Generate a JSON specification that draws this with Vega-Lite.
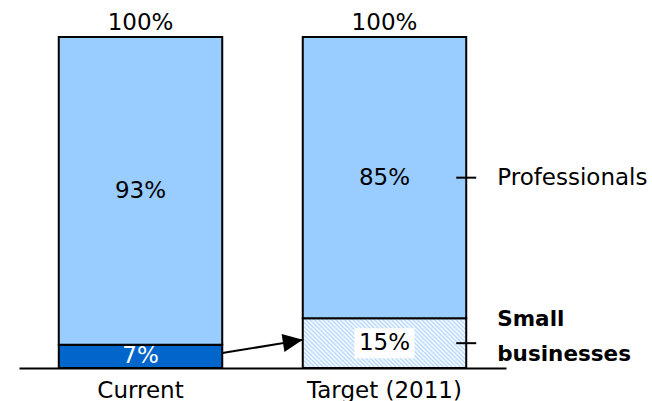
{
  "$schema": "https://vega.github.io/schema/vega-lite/v6.json",
  "width": 487,
  "height": 331,
  "autosize": {"type": "none"},
  "padding": {"left": 19, "top": 37, "right": 146, "bottom": 33},
  "background": "white",
  "config": {"view": {"stroke": null}, "font": "DejaVu Sans"},
  "data": {
    "values": [
      {"bar": "Current", "segment": "Small businesses", "share": 0.07},
      {"bar": "Current", "segment": "Professionals", "share": 0.93},
      {"bar": "Target (2011)", "segment": "Small businesses", "share": 0.15},
      {"bar": "Target (2011)", "segment": "Professionals", "share": 0.85}
    ]
  },
  "encoding": {
    "x": {
      "field": "bar",
      "type": "nominal",
      "scale": {"type": "band", "paddingInner": 0.33, "paddingOuter": 0.163},
      "axis": {
        "title": null,
        "domain": true,
        "domainColor": "#000000",
        "domainWidth": 2,
        "ticks": false,
        "tickSize": 0,
        "labelAngle": 0,
        "labelFont": "DejaVu Sans",
        "labelFontSize": 23,
        "labelColor": "#000000",
        "labelPadding": 11
      }
    }
  },
  "layer": [
    {
      "mark": {"type": "bar", "stroke": "#000000", "strokeWidth": 2},
      "encoding": {
        "y": {"field": "share", "type": "quantitative", "stack": "zero", "scale": {"domain": [0, 1], "nice": false}, "axis": null},
        "order": {"field": "segment", "sort": "descending"},
        "fill": {
          "condition": {
            "test": "datum.bar === 'Target (2011)' && datum.segment === 'Small businesses'",
            "value": {
              "gradient": "linear", "x1": 0, "y1": 1, "x2": 1.2, "y2": 0.634,
              "stops": [
                {"offset": 0.00, "color": "#b3d7fb"}, {"offset": 0.01, "color": "#ffffff"},
                {"offset": 0.02, "color": "#b3d7fb"}, {"offset": 0.03, "color": "#ffffff"},
                {"offset": 0.04, "color": "#b3d7fb"}, {"offset": 0.05, "color": "#ffffff"},
                {"offset": 0.06, "color": "#b3d7fb"}, {"offset": 0.07, "color": "#ffffff"},
                {"offset": 0.08, "color": "#b3d7fb"}, {"offset": 0.09, "color": "#ffffff"},
                {"offset": 0.10, "color": "#b3d7fb"}, {"offset": 0.11, "color": "#ffffff"},
                {"offset": 0.12, "color": "#b3d7fb"}, {"offset": 0.13, "color": "#ffffff"},
                {"offset": 0.14, "color": "#b3d7fb"}, {"offset": 0.15, "color": "#ffffff"},
                {"offset": 0.16, "color": "#b3d7fb"}, {"offset": 0.17, "color": "#ffffff"},
                {"offset": 0.18, "color": "#b3d7fb"}, {"offset": 0.19, "color": "#ffffff"},
                {"offset": 0.20, "color": "#b3d7fb"}, {"offset": 0.21, "color": "#ffffff"},
                {"offset": 0.22, "color": "#b3d7fb"}, {"offset": 0.23, "color": "#ffffff"},
                {"offset": 0.24, "color": "#b3d7fb"}, {"offset": 0.25, "color": "#ffffff"},
                {"offset": 0.26, "color": "#b3d7fb"}, {"offset": 0.27, "color": "#ffffff"},
                {"offset": 0.28, "color": "#b3d7fb"}, {"offset": 0.29, "color": "#ffffff"},
                {"offset": 0.30, "color": "#b3d7fb"}, {"offset": 0.31, "color": "#ffffff"},
                {"offset": 0.32, "color": "#b3d7fb"}, {"offset": 0.33, "color": "#ffffff"},
                {"offset": 0.34, "color": "#b3d7fb"}, {"offset": 0.35, "color": "#ffffff"},
                {"offset": 0.36, "color": "#b3d7fb"}, {"offset": 0.37, "color": "#ffffff"},
                {"offset": 0.38, "color": "#b3d7fb"}, {"offset": 0.39, "color": "#ffffff"},
                {"offset": 0.40, "color": "#b3d7fb"}, {"offset": 0.41, "color": "#ffffff"},
                {"offset": 0.42, "color": "#b3d7fb"}, {"offset": 0.43, "color": "#ffffff"},
                {"offset": 0.44, "color": "#b3d7fb"}, {"offset": 0.45, "color": "#ffffff"},
                {"offset": 0.46, "color": "#b3d7fb"}, {"offset": 0.47, "color": "#ffffff"},
                {"offset": 0.48, "color": "#b3d7fb"}, {"offset": 0.49, "color": "#ffffff"},
                {"offset": 0.50, "color": "#b3d7fb"}, {"offset": 0.51, "color": "#ffffff"},
                {"offset": 0.52, "color": "#b3d7fb"}, {"offset": 0.53, "color": "#ffffff"},
                {"offset": 0.54, "color": "#b3d7fb"}, {"offset": 0.55, "color": "#ffffff"},
                {"offset": 0.56, "color": "#b3d7fb"}, {"offset": 0.57, "color": "#ffffff"},
                {"offset": 0.58, "color": "#b3d7fb"}, {"offset": 0.59, "color": "#ffffff"},
                {"offset": 0.60, "color": "#b3d7fb"}, {"offset": 0.61, "color": "#ffffff"},
                {"offset": 0.62, "color": "#b3d7fb"}, {"offset": 0.63, "color": "#ffffff"},
                {"offset": 0.64, "color": "#b3d7fb"}, {"offset": 0.65, "color": "#ffffff"},
                {"offset": 0.66, "color": "#b3d7fb"}, {"offset": 0.67, "color": "#ffffff"},
                {"offset": 0.68, "color": "#b3d7fb"}, {"offset": 0.69, "color": "#ffffff"},
                {"offset": 0.70, "color": "#b3d7fb"}, {"offset": 0.71, "color": "#ffffff"},
                {"offset": 0.72, "color": "#b3d7fb"}, {"offset": 0.73, "color": "#ffffff"},
                {"offset": 0.74, "color": "#b3d7fb"}, {"offset": 0.75, "color": "#ffffff"},
                {"offset": 0.76, "color": "#b3d7fb"}, {"offset": 0.77, "color": "#ffffff"},
                {"offset": 0.78, "color": "#b3d7fb"}, {"offset": 0.79, "color": "#ffffff"},
                {"offset": 0.80, "color": "#b3d7fb"}, {"offset": 0.81, "color": "#ffffff"},
                {"offset": 0.82, "color": "#b3d7fb"}, {"offset": 0.83, "color": "#ffffff"},
                {"offset": 0.84, "color": "#b3d7fb"}, {"offset": 0.85, "color": "#ffffff"},
                {"offset": 0.86, "color": "#b3d7fb"}, {"offset": 0.87, "color": "#ffffff"},
                {"offset": 0.88, "color": "#b3d7fb"}, {"offset": 0.89, "color": "#ffffff"},
                {"offset": 0.90, "color": "#b3d7fb"}, {"offset": 0.91, "color": "#ffffff"},
                {"offset": 0.92, "color": "#b3d7fb"}, {"offset": 0.93, "color": "#ffffff"},
                {"offset": 0.94, "color": "#b3d7fb"}, {"offset": 0.95, "color": "#ffffff"},
                {"offset": 0.96, "color": "#b3d7fb"}, {"offset": 0.97, "color": "#ffffff"},
                {"offset": 0.98, "color": "#b3d7fb"}, {"offset": 0.99, "color": "#ffffff"},
                {"offset": 1.00, "color": "#b3d7fb"}
              ]
            }
          },
          "field": "segment",
          "type": "nominal",
          "scale": {"domain": ["Professionals", "Small businesses"], "range": ["#99ccff", "#0066cc"]},
          "legend": null
        }
      }
    },
    {
      "mark": {"type": "point", "shape": "M-1,-0.5H1V0.5H-1Z", "filled": true, "fill": "#ffffff", "strokeWidth": 0, "size": 3600},
      "encoding": {
        "y": {"field": "share", "type": "quantitative", "stack": "zero", "bandPosition": 0.5, "scale": {"domain": [0, 1], "nice": false}},
        "detail": {"field": "segment"},
        "order": {"field": "segment", "sort": "descending"},
        "opacity": {
          "condition": {"test": "datum.bar === 'Target (2011)' && datum.segment === 'Small businesses'", "value": 1},
          "value": 0
        }
      }
    },
    {
      "mark": {"type": "text", "font": "DejaVu Sans", "fontSize": 23, "baseline": "middle", "align": "center"},
      "encoding": {
        "y": {"field": "share", "type": "quantitative", "stack": "zero", "bandPosition": 0.5, "scale": {"domain": [0, 1], "nice": false}},
        "detail": {"field": "segment"},
        "order": {"field": "segment", "sort": "descending"},
        "text": {"field": "share", "type": "quantitative", "format": ".0%"},
        "color": {
          "condition": {"test": "datum.bar === 'Current' && datum.segment === 'Small businesses'", "value": "#ffffff"},
          "value": "#000000"
        }
      }
    },
    {
      "mark": {"type": "text", "font": "DejaVu Sans", "fontSize": 23, "baseline": "alphabetic", "align": "center", "dy": -7, "color": "#000000"},
      "encoding": {
        "y": {"aggregate": "sum", "field": "share", "type": "quantitative", "stack": null, "scale": {"domain": [0, 1], "nice": false}},
        "text": {"aggregate": "sum", "field": "share", "type": "quantitative", "format": ".0%"}
      }
    },
    {
      "mark": {"type": "point", "shape": "stroke", "filled": false, "stroke": "#000000", "strokeWidth": 2, "size": 400},
      "encoding": {
        "x": {"field": "bar", "type": "nominal", "bandPosition": 1},
        "y": {"field": "share", "type": "quantitative", "stack": "zero", "bandPosition": 0.5, "scale": {"domain": [0, 1], "nice": false}},
        "detail": {"field": "segment"},
        "order": {"field": "segment", "sort": "descending"},
        "opacity": {"condition": {"test": "datum.bar === 'Current'", "value": 0}, "value": 1}
      }
    },
    {
      "mark": {"type": "text", "font": "DejaVu Sans", "fontSize": 23, "baseline": "middle", "align": "left", "dx": 31, "color": "#000000"},
      "encoding": {
        "x": {"field": "bar", "type": "nominal", "bandPosition": 1},
        "y": {"field": "share", "type": "quantitative", "stack": "zero", "bandPosition": 0.5, "scale": {"domain": [0, 1], "nice": false}},
        "detail": {"field": "segment"},
        "order": {"field": "segment", "sort": "descending"},
        "text": {
          "condition": {"test": "datum.bar === 'Target (2011)' && datum.segment === 'Professionals'", "field": "segment"},
          "value": ""
        }
      }
    },
    {
      "mark": {"type": "text", "font": "DejaVu Sans", "fontSize": 21.5, "fontWeight": "bold", "baseline": "middle", "align": "left", "dx": 31, "dy": -23, "lineBreak": " ", "lineHeight": 35, "color": "#000000"},
      "encoding": {
        "x": {"field": "bar", "type": "nominal", "bandPosition": 1},
        "y": {"field": "share", "type": "quantitative", "stack": "zero", "bandPosition": 0.5, "scale": {"domain": [0, 1], "nice": false}},
        "detail": {"field": "segment"},
        "order": {"field": "segment", "sort": "descending"},
        "text": {
          "condition": {"test": "datum.bar === 'Target (2011)' && datum.segment === 'Small businesses'", "field": "segment"},
          "value": ""
        }
      }
    },
    {
      "data": {"values": [{"from": "Current", "to": "Target (2011)", "start": 0.045, "end": 0.085}]},
      "mark": {"type": "rule", "stroke": "#000000", "strokeWidth": 2},
      "encoding": {
        "x": {"field": "from", "type": "nominal", "bandPosition": 1},
        "x2": {"field": "to", "bandPosition": 0},
        "y": {"field": "start", "type": "quantitative", "scale": {"domain": [0, 1], "nice": false}},
        "y2": {"field": "end"}
      }
    },
    {
      "data": {"values": [{"from": "Current", "to": "Target (2011)", "start": 0.045, "end": 0.085}]},
      "mark": {"type": "point", "shape": "M0,0L-2,-0.9L-2,0.9Z", "filled": true, "fill": "#000000", "strokeWidth": 0, "size": 400, "angle": 351, "opacity": 1},
      "encoding": {
        "x": {"field": "to", "type": "nominal", "bandPosition": 0},
        "y": {"field": "end", "type": "quantitative", "scale": {"domain": [0, 1], "nice": false}}
      }
    }
  ]
}
